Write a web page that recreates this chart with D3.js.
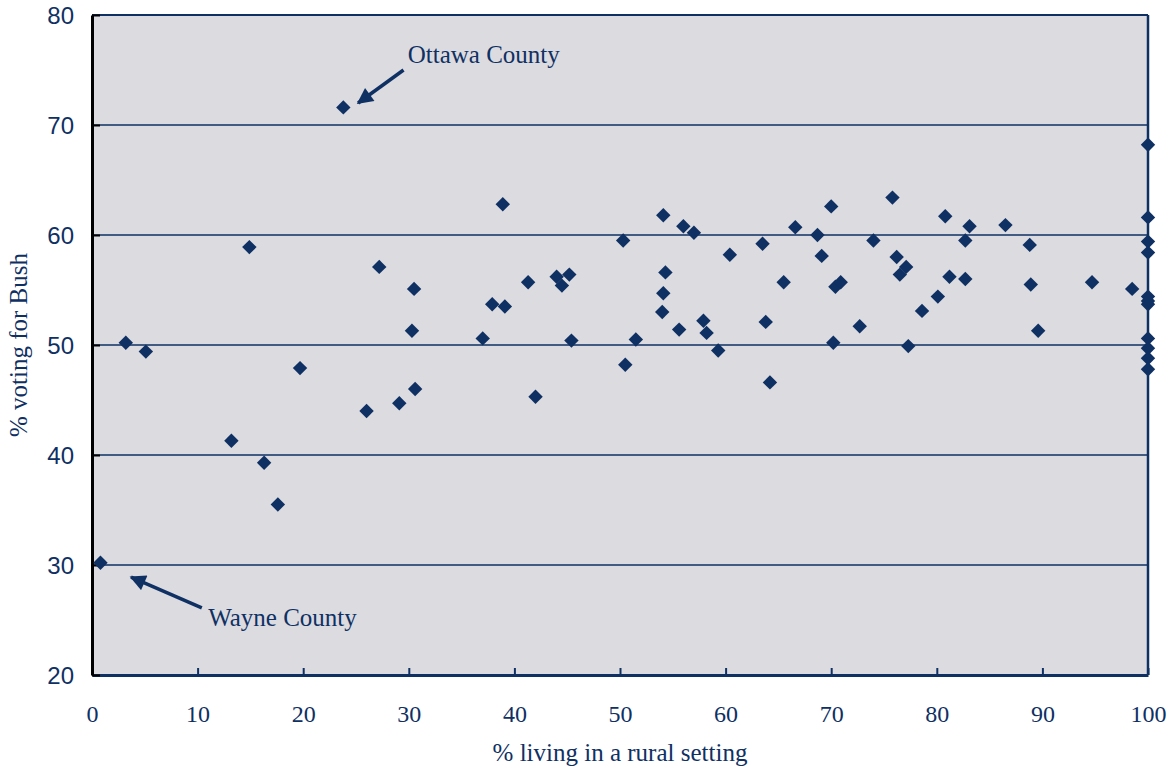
<!DOCTYPE html>
<html>
<head>
<meta charset="utf-8">
<script src="https://cdn.jsdelivr.net/npm/d3@7"></script>
<style>
  body { margin: 0; background: #fff; }
  .ylab text { font-family: "Liberation Sans", Arial, sans-serif; font-size: 24px; fill: #0f3063; }
  .xlab text { font-family: "Liberation Serif", "Times New Roman", serif; font-size: 24px; fill: #0f3063; }
  .title, .note { font-family: "Liberation Serif", "Times New Roman", serif; font-size: 25px; fill: #0f3063; }
</style>
</head>
<body>
<div class="chart"></div>
<script>
//----------------------------------------------------------------------------
// Michigan counties: rural share vs Bush vote
//----------------------------------------------------------------------------

var width = 1170,
    height = 768;

var navy = "#0f3063",
    plotBg = "#dcdbe0";

// % living in a rural setting
var rural = [0.8, 3.2, 5.1, 13.2, 14.9, 16.3, 17.6, 19.7, 23.8, 26.0,
  27.2, 29.1, 30.3, 30.5, 30.6, 37.0, 37.9, 38.9, 39.1, 41.3,
  42.0, 44.0, 44.5, 45.2, 45.4, 50.3, 50.5, 51.5, 54.1, 54.3,
  54.1, 54.0, 55.6, 56.0, 57.0, 57.9, 58.2, 59.3, 60.4, 63.5,
  63.8, 64.2, 65.5, 66.6, 68.7, 69.1, 70.0, 70.2, 70.4, 70.9,
  72.7, 74.0, 75.8, 76.2, 76.5, 77.1, 77.3, 78.6, 80.1, 80.8,
  81.2, 82.7, 82.7, 83.1, 86.5, 88.8, 88.9, 89.6, 94.7, 98.5,
  100, 100, 100, 100, 100, 100, 100, 100, 100, 100, 100];

// % voting for Bush
var bush = [30.2, 50.2, 49.4, 41.3, 58.9, 39.3, 35.5, 47.9, 71.6, 44.0,
  57.1, 44.7, 51.3, 55.1, 46.0, 50.6, 53.7, 62.8, 53.5, 55.7,
  45.3, 56.2, 55.4, 56.4, 50.4, 59.5, 48.2, 50.5, 61.8, 56.6,
  54.7, 53.0, 51.4, 60.8, 60.2, 52.2, 51.1, 49.5, 58.2, 59.2,
  52.1, 46.6, 55.7, 60.7, 60.0, 58.1, 62.6, 50.2, 55.3, 55.7,
  51.7, 59.5, 63.4, 58.0, 56.4, 57.1, 49.9, 53.1, 54.4, 61.7,
  56.2, 59.5, 56.0, 60.8, 60.9, 59.1, 55.5, 51.3, 55.7, 55.1,
  68.2, 61.6, 59.4, 58.4, 54.4, 54.0, 53.7, 50.6, 49.7, 48.8, 47.8];

var xTicks = [0, 10, 20, 30, 40, 50, 60, 70, 80, 90, 100];
var yTicks = [20, 30, 40, 50, 60, 70, 80];

// callouts, in data units: label spot, arrow tail, arrow tip
var notes = [
  { label: "Ottawa County", text: [29.9, 75.6], from: [29.5, 75.0], to: [25.2, 72.0] },
  { label: "Wayne County", text: [11.0, 24.5], from: [10.4, 26.1], to: [3.7, 28.9] }
];

var points = rural.map(function(r, i) { return { x: r, y: bush[i] }; });

var x = d3.scaleLinear().domain([0, 100]).range([92, 1148]);
var y = d3.scaleLinear().domain([20, 80]).range([675, 15]);

var svg = d3.select(".chart").append("svg")
  .attr("width", width)
  .attr("height", height);

svg.append("defs").append("marker")
  .attr("id", "head")
  .attr("markerUnits", "userSpaceOnUse")
  .attr("viewBox", "0 0 10 10")
  .attr("refX", 9)
  .attr("refY", 5)
  .attr("markerWidth", 17)
  .attr("markerHeight", 16)
  .attr("orient", "auto")
  .append("path")
  .attr("d", "M0,0L10,5L0,10Z")
  .style("fill", navy);

// plot background
svg.append("rect")
  .attr("x", x(0))
  .attr("y", y(80))
  .attr("width", x(100) - x(0))
  .attr("height", y(20) - y(80))
  .style("fill", plotBg);

// gridlines
svg.selectAll(".grid")
  .data(yTicks.filter(function(d) { return d > 20 && d < 80; }))
  .enter()
  .append("line")
  .attr("x1", x(0))
  .attr("x2", x(100))
  .attr("y1", function(d) { return y(d); })
  .attr("y2", function(d) { return y(d); })
  .style("stroke", navy)
  .style("stroke-width", 1.3);

// top and right frame
svg.append("line")
  .attr("x1", x(0)).attr("x2", x(100))
  .attr("y1", y(80)).attr("y2", y(80))
  .style("stroke", navy).style("stroke-width", 2);
svg.append("line")
  .attr("x1", x(100)).attr("x2", x(100))
  .attr("y1", y(80)).attr("y2", y(20))
  .style("stroke", navy).style("stroke-width", 2.5);

// x axis
var xAxis = svg.append("g")
  .attr("class", "xlab")
  .attr("transform", "translate(0," + y(20) + ")")
  .call(d3.axisBottom(x).tickValues(xTicks).tickSize(-7).tickSizeOuter(0).tickPadding(30));
xAxis.select(".domain").style("stroke", navy).style("stroke-width", 3);
xAxis.selectAll(".tick line").style("stroke", navy).style("stroke-width", 2);

// y axis
var yAxis = svg.append("g")
  .attr("class", "ylab")
  .attr("transform", "translate(" + x(0) + ",0)")
  .call(d3.axisLeft(y).tickValues(yTicks).tickSize(-8).tickSizeOuter(0).tickPadding(18));
yAxis.select(".domain").style("stroke", "#000").style("stroke-width", 3);
yAxis.selectAll(".tick line").style("stroke", "#000").style("stroke-width", 2);
yAxis.selectAll(".tick text").attr("dy", "0.36em");

// points
svg.selectAll(".pt")
  .data(points)
  .enter()
  .append("path")
  .attr("class", "pt")
  .attr("d", d3.symbol().type(d3.symbolSquare).size(104))
  .attr("transform", function(d) {
    return "translate(" + x(d.x) + "," + y(d.y) + ") rotate(45)";
  })
  .style("fill", navy);

// callouts
svg.selectAll(".arrow")
  .data(notes)
  .enter()
  .append("line")
  .attr("x1", function(d) { return x(d.from[0]); })
  .attr("y1", function(d) { return y(d.from[1]); })
  .attr("x2", function(d) { return x(d.to[0]); })
  .attr("y2", function(d) { return y(d.to[1]); })
  .attr("marker-end", "url(#head)")
  .style("stroke", navy)
  .style("stroke-width", 3.5);

svg.selectAll(".note")
  .data(notes)
  .enter()
  .append("text")
  .attr("class", "note")
  .attr("x", function(d) { return x(d.text[0]); })
  .attr("y", function(d) { return y(d.text[1]); })
  .text(function(d) { return d.label; });

// axis titles
svg.append("text")
  .attr("class", "title")
  .attr("text-anchor", "middle")
  .attr("transform", "translate(27," + y(50) + ") rotate(-90)")
  .text("% voting for Bush");

svg.append("text")
  .attr("class", "title")
  .attr("text-anchor", "middle")
  .attr("x", x(50))
  .attr("y", 761)
  .text("% living in a rural setting");
</script>
</body>
</html>
